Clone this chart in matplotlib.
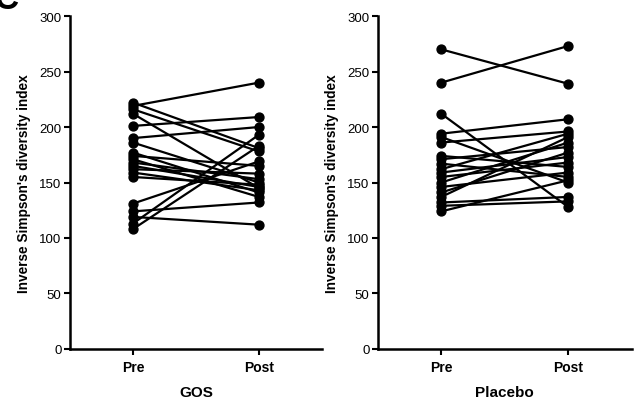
import matplotlib
matplotlib.use('Agg')
import matplotlib.pyplot as plt

# x categories
timepoints = ["Pre", "Post"]

# GOS group, paired values per subject
gos_pre = [219, 222, 216, 212, 201, 190, 186, 177, 174, 171, 168, 165, 162, 159, 155, 131, 124, 119, 113, 108]
gos_post = [240, 181, 178, 145, 209, 200, 150, 141, 165, 137, 153, 146, 158, 143, 148, 169, 132, 112, 193, 183]

# Placebo group, paired values per subject
plc_pre = [270, 240, 212, 194, 191, 186, 174, 171, 167, 162, 159, 155, 150, 146, 141, 137, 132, 129, 124]
plc_post = [239, 273, 128, 207, 150, 196, 164, 182, 155, 194, 173, 168, 186, 159, 177, 191, 137, 133, 152]

yticks = [0, 50, 100, 150, 200, 250, 300]

plt.rcParams['font.family'] = ['Liberation Sans', 'DejaVu Sans']

fig = plt.figure(figsize=(6.36, 4.06), dpi=100)
ax1 = fig.add_axes([0.110, 0.138, 0.396, 0.820])
ax2 = fig.add_axes([0.594, 0.138, 0.399, 0.820])

panels = [(ax1, gos_pre, gos_post, "GOS"), (ax2, plc_pre, plc_post, "Placebo")]
for ax, pre, post, name in panels:
    for a, b in zip(pre, post):
        ax.plot([0, 1], [a, b], color="black", lw=1.6, marker="o", ms=6.4,
                solid_capstyle="round", clip_on=False)
    ax.set_xlim(-0.5, 1.5)
    ax.set_ylim(0, 300)
    ax.set_xticks([0, 1])
    ax.set_xticklabels(timepoints, fontsize=10, fontweight="bold")
    ax.set_yticks(yticks)
    ax.tick_params(axis="y", labelsize=9.5, width=1.5, length=4, pad=2)
    ax.tick_params(axis="x", width=1.5, length=4, pad=4)
    for s in ["top", "right"]:
        ax.spines[s].set_visible(False)
    for s in ["left", "bottom"]:
        ax.spines[s].set_linewidth(1.8)
    ax.set_xlabel(name, fontsize=11, fontweight="bold", labelpad=8)
    ax.set_ylabel("Inverse Simpson's diversity index", fontsize=9.8, fontweight="bold", labelpad=6)

# cropped panel letter
fig.text(-0.008, 0.978, "C", fontsize=24, fontweight="bold", va="baseline")

plt.savefig("out.png", dpi=100)
